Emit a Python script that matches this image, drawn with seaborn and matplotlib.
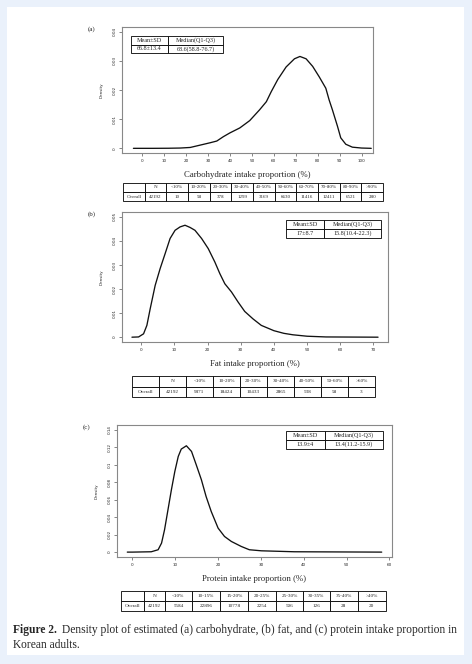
import numpy as np
import pandas as pd
import matplotlib
matplotlib.use('Agg')
import matplotlib.pyplot as plt
import seaborn as sns

# curvas de densidad
carb_x = [-4, 5, 12, 17.3, 21.9, 26.4, 30.9, 34, 37, 40, 44.5, 49, 53.5, 56.6, 58.8, 61.8, 65.6, 69.4, 71.9,
          74.7, 77.7, 80.7, 83.7, 85.2, 86.7, 89, 90.5, 92.8, 95.8, 100, 104.4]
carb_y = [0, 0, 0.00003, 0.0001, 0.0003, 0.0011, 0.0019, 0.0025, 0.004, 0.0053, 0.007, 0.0095, 0.0132, 0.016,
          0.0194, 0.0236, 0.0279, 0.0307, 0.0315, 0.0307, 0.0281, 0.0245, 0.0206, 0.0166, 0.0132, 0.0076,
          0.0036, 0.0014, 0.0004, 0.0001, 0]

fat_x = [-2.8, -0.8, 0.7, 1.7, 2.7, 4.2, 5.7, 7.2, 8.7, 10.2, 11.7, 13.2, 14.7, 16.2, 18.2, 20.2, 22.2, 23.7,
         25.2, 27.2, 29.2, 31.2, 33.7, 36.2, 40, 43, 45.7, 50, 55.7, 71.4]
fat_y = [0, 0.0001, 0.0014, 0.0049, 0.0118, 0.0215, 0.0285, 0.0347, 0.041, 0.0444, 0.0458, 0.0465, 0.0456,
         0.0444, 0.041, 0.0368, 0.0312, 0.0264, 0.0222, 0.0188, 0.0146, 0.0107, 0.0076, 0.0049, 0.0027, 0.0016,
         0.001, 0.0004, 0.0001, 0]

prot_x = [-1.2, 0, 4.4, 6, 6.8, 7.5, 8.3, 9.1, 9.9, 10.7, 11.4, 12.6, 13.8, 14.9, 16.1, 17.2, 18.4, 20, 21.5,
          23.1, 25.4, 27.3, 30.1, 37.8, 58.2]
prot_y = [0, 0, 0.0004, 0.0027, 0.0103, 0.0256, 0.0485, 0.0714, 0.0924, 0.1096, 0.118, 0.1218, 0.1153, 0.1,
          0.0829, 0.0637, 0.0465, 0.0275, 0.0179, 0.0122, 0.0065, 0.0027, 0.0015, 0.0004, 0]

# tablas
carb_cols = ["", "N", "<10%", "10-20%", "20-30%", "30-40%", "40-50%", "50-60%", "60-70%", "70-80%", "80-90%", ">90%"]
carb_counts = ["Overall", "42192", "10", "58", "378", "1299", "3169", "6630", "11416", "12411", "6521", "280"]
fat_cols = ["", "N", "<10%", "10-20%", "20-30%", "30-40%", "40-50%", "50-60%", ">60%"]
fat_counts = ["Overall", "42192", "9871", "18424", "10433", "2865", "538", "58", "3"]
prot_cols = ["", "N", "<10%", "10-15%", "15-20%", "20-25%", "25-30%", "30-35%", "35-40%", ">40%"]
prot_counts = ["Overall", "42192", "5584", "22896", "10778", "2254", "506", "126", "28", "20"]

stat_cols = ["Mean±SD", "Median(Q1-Q3)"]
carb_stats = ["66.8±13.4", "68.6(58.8-76.7)"]
fat_stats = ["17±8.7", "15.8(10.4-22.3)"]
prot_stats = ["13.9±4", "13.4(11.2-15.9)"]

sns.set_theme(style='white')
plt.rcParams['font.family'] = ['Liberation Serif', 'DejaVu Serif']

W, H = 472, 664
fig = plt.figure(figsize=(W / 100, H / 100), dpi=100)
fig.patch.set_facecolor('#eaf1fb')

# fondo blanco de la figura
bg = fig.add_axes([0, 0, 1, 1], zorder=-10)
bg.axis('off')
bg.add_patch(plt.Rectangle((7 / W, 1 - 655 / H), 457 / W, 648 / H,
                           transform=bg.transAxes, facecolor='white', edgecolor='none'))


def px_axes(left, top, right, bottom):
    return fig.add_axes([left / W, 1 - bottom / H, (right - left) / W, (bottom - top) / H])


def draw_table(ax, rows, fs, widths=None):
    ax.axis('off')
    t = ax.table(cellText=rows, cellLoc='center', bbox=[0, 0, 1, 1], colWidths=widths)
    t.auto_set_font_size(False)
    t.set_fontsize(fs)
    for cell in t.get_celld().values():
        cell.set_linewidth(0.6)
        cell.set_edgecolor('black')
        cell.set_facecolor('white')
        cell.PAD = 0.02
    return t


def density_panel(box, x, y, xlim, ylim, xticks, yticks, ylabels, xlabel, letter, stats, stats_box):
    ax = px_axes(*box)
    df = pd.DataFrame({'x': x, 'y': y})
    sns.lineplot(data=df, x='x', y='y', ax=ax, color='#111111', linewidth=0.95, estimator=None, sort=False)
    ax.set_xlim(*xlim)
    ax.set_ylim(*ylim)
    ax.set_xticks(xticks)
    ax.set_xticklabels([str(v) for v in xticks], fontsize=3, family='DejaVu Sans')
    ax.set_yticks(yticks)
    ax.set_yticklabels(ylabels, fontsize=3, family='DejaVu Sans', rotation=90, va='center')
    ax.tick_params(length=2, width=0.5, color='#555555', pad=2, bottom=True, left=True)
    for s in ax.spines.values():
        s.set_color('#888888')
        s.set_linewidth(0.8)
    ax.set_xlabel(xlabel, fontsize=6.3, labelpad=6)
    ax.set_ylabel('Density', fontsize=3, family='DejaVu Sans', labelpad=6)
    fig.text((box[0] - 34) / W, 1 - (box[1] + 2) / H, letter, fontsize=5, ha='left', va='center')
    # recuadro de media y mediana
    l, t, r, b = stats_box
    sub = ax.inset_axes([(l - box[0]) / (box[2] - box[0]), (box[3] - b) / (box[3] - box[1]),
                         (r - l) / (box[2] - box[0]), (b - t) / (box[3] - box[1])])
    draw_table(sub, [stat_cols, stats], 4.4, widths=[0.4, 0.6])
    return ax


density_panel((122, 27, 373, 153), carb_x, carb_y, (-9.2, 105.2), (-0.0016, 0.0416),
              list(range(0, 101, 10)), [0, 0.01, 0.02, 0.03, 0.04], ['0', '0.01', '0.02', '0.03', '0.04'],
              'Carbohydrate intake proportion (%)', '(a)', carb_stats, (131, 36, 223, 53))
tab = px_axes(123, 183, 383, 201)
draw_table(tab, [carb_cols, carb_counts], 3.6)

density_panel((122, 212, 388, 342), fat_x, fat_y, (-5.8, 74.4), (-0.002, 0.052),
              list(range(0, 71, 10)), [0, 0.01, 0.02, 0.03, 0.04, 0.05], ['0', '0.01', '0.02', '0.03', '0.04', '0.05'],
              'Fat intake proportion (%)', '(b)', fat_stats, (286, 220, 381, 238))
tab = px_axes(132, 376, 375, 397)
draw_table(tab, [fat_cols, fat_counts], 3.7)

density_panel((117, 425, 392, 557), prot_x, prot_y, (-3.6, 60.6), (-0.0056, 0.1456),
              list(range(0, 61, 10)), [0, 0.02, 0.04, 0.06, 0.08, 0.1, 0.12, 0.14],
              ['0', '0.02', '0.04', '0.06', '0.08', '0.1', '0.12', '0.14'],
              'Protein intake proportion (%)', '(c)', prot_stats, (286, 431, 383, 449))
tab = px_axes(121, 591, 386, 611)
draw_table(tab, [prot_cols, prot_counts], 3.7, widths=[70, 62, 80, 85, 85, 83, 80, 80, 84, 85])

# pie de figura
cap_fs = 8.3
lbl = fig.text(13 / W, 1 - 630 / H, 'Figure 2.', fontsize=cap_fs, fontweight='bold', va='center')
fig.canvas.draw()
ext = lbl.get_window_extent()
fig.text((ext.x1 + 5) / W, 1 - 630 / H,
         'Density plot of estimated (a) carbohydrate, (b) fat, and (c) protein intake proportion in',
         fontsize=cap_fs, va='center')
fig.text(13 / W, 1 - 645 / H, 'Korean adults.', fontsize=cap_fs, va='center')

fig.savefig('out.png', dpi=100, facecolor=fig.get_facecolor())
